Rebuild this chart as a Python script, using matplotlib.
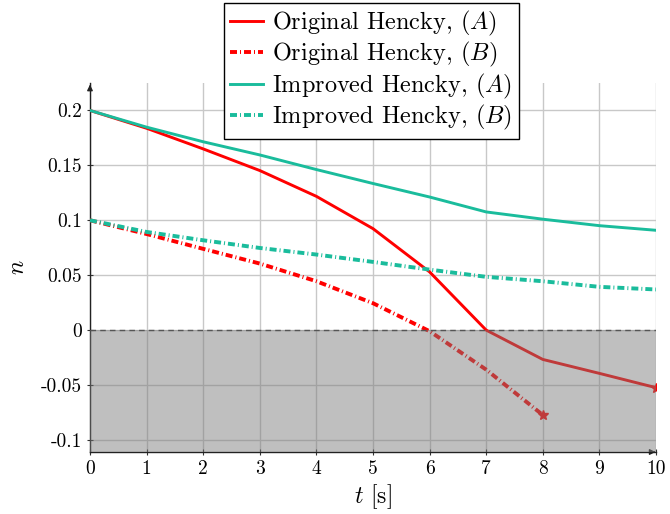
import numpy as np
import matplotlib
matplotlib.use("Agg")
import matplotlib.pyplot as plt

plt.rcParams['font.family'] = ['cmr10', 'DejaVu Serif']
plt.rcParams['mathtext.fontset'] = 'cm'
plt.rcParams['axes.formatter.use_mathtext'] = True

# === data ===
t_orig_a = [0, 1, 2, 3, 4, 5, 6, 7, 8, 9, 10]
n_orig_a = [0.2, 0.1838, 0.165, 0.1453, 0.1218, 0.0924, 0.0530, 0.0, -0.0267, -0.0394, -0.0524]

t_orig_b = [0, 1, 2, 3, 4, 5, 6, 7, 8]
n_orig_b = [0.1, 0.0875, 0.0740, 0.0606, 0.0445, 0.0245, -0.0010, -0.0360, -0.0773]

t_imp = [0, 1, 2, 3, 4, 5, 6, 7, 8, 9, 10]
n_imp_a = [0.2, 0.1848, 0.1715, 0.1595, 0.1462, 0.1335, 0.1212, 0.1076, 0.1010, 0.0951, 0.0909]
n_imp_b = [0.1, 0.0894, 0.0818, 0.0748, 0.0688, 0.0621, 0.0551, 0.0485, 0.0445, 0.0394, 0.0370]

labels = ['Original Hencky, $(A)$', 'Original Hencky, $(B)$',
          'Improved Hencky, $(A)$', 'Improved Hencky, $(B)$']
xticks = list(range(11))
yticks = [-0.1, -0.05, 0, 0.05, 0.1, 0.15, 0.2]
ytick_labels = ['-0.1', '-0.05', '0', '0.05', '0.1', '0.15', '0.2']

red = '#ff0000'
teal = '#1abc9c'
dashdot = (1.8, 0.77, 0.26, 0.77)

fig = plt.figure(figsize=(6.70, 5.14), dpi=100)
ax = fig.add_axes([0.1343, 0.1206, 0.8448, 0.7179])

ax.plot(t_orig_a, n_orig_a, color=red, lw=2.1, label=labels[0], zorder=3)
ax.plot(t_orig_b, n_orig_b, color=red, lw=2.8, dashes=dashdot, label=labels[1], zorder=3)
ax.plot(t_imp, n_imp_a, color=teal, lw=2.1, label=labels[2], zorder=3)
ax.plot(t_imp, n_imp_b, color=teal, lw=2.8, dashes=dashdot, label=labels[3], zorder=3)

# end markers (stars) on the original curves
ax.plot(t_orig_a[-1:], n_orig_a[-1:], ls='none', marker='*', color=red, markersize=7, zorder=3)
ax.plot(t_orig_b[-1:], n_orig_b[-1:], ls='none', marker='*', color=red, markersize=7, zorder=3)

ymin, ymax = -0.111, 0.225
ax.set_xlim(0, 10)
ax.set_ylim(ymin, ymax)

# shaded negative region on top of the curves
ax.fill_between([0, 10], [0, 0], [ymin, ymin], color='#7a7a7a', alpha=0.48,
                lw=0, zorder=4)
ax.axhline(0, color='#555555', lw=1.0, ls=(0, (4, 3)), zorder=5)

ax.set_xticks(xticks)
ax.set_xticklabels([str(v) for v in xticks])
ax.set_yticks(yticks)
ax.set_yticklabels(ytick_labels)
ax.tick_params(labelsize=14, direction='inout', length=5, width=0.8, color='#333333')
ax.grid(True, color='#c8c8c8', lw=1.0, zorder=1)
ax.set_axisbelow(True)

for s in ['top', 'right']:
    ax.spines[s].set_visible(False)
for s in ['left', 'bottom']:
    ax.spines[s].set_linewidth(1.0)
    ax.spines[s].set_color('#222222')

# arrow heads on axes
ax.annotate('', xy=(1.004, 0), xycoords='axes fraction', xytext=(0.99, 0),
            arrowprops=dict(arrowstyle='-|>', color='#222222', lw=1.0,
                            mutation_scale=8), annotation_clip=False)
ax.annotate('', xy=(0, 1.003), xycoords='axes fraction', xytext=(0, 0.98),
            arrowprops=dict(arrowstyle='-|>', color='#222222', lw=1.0,
                            mutation_scale=8), annotation_clip=False)

ax.set_xlabel('$t$ [s]', fontsize=17, labelpad=3)
ax.set_ylabel('$n$', fontsize=17, labelpad=8)

leg = fig.legend(loc='upper center', bbox_to_anchor=(0.554, 0.995), fontsize=17.5,
                 frameon=True, fancybox=False, edgecolor='black', framealpha=1,
                 handlelength=1.35, borderpad=0.25, labelspacing=0.1,
                 handletextpad=0.4, borderaxespad=0)
leg.get_frame().set_linewidth(1.0)

fig.savefig('out.png', dpi=100)
